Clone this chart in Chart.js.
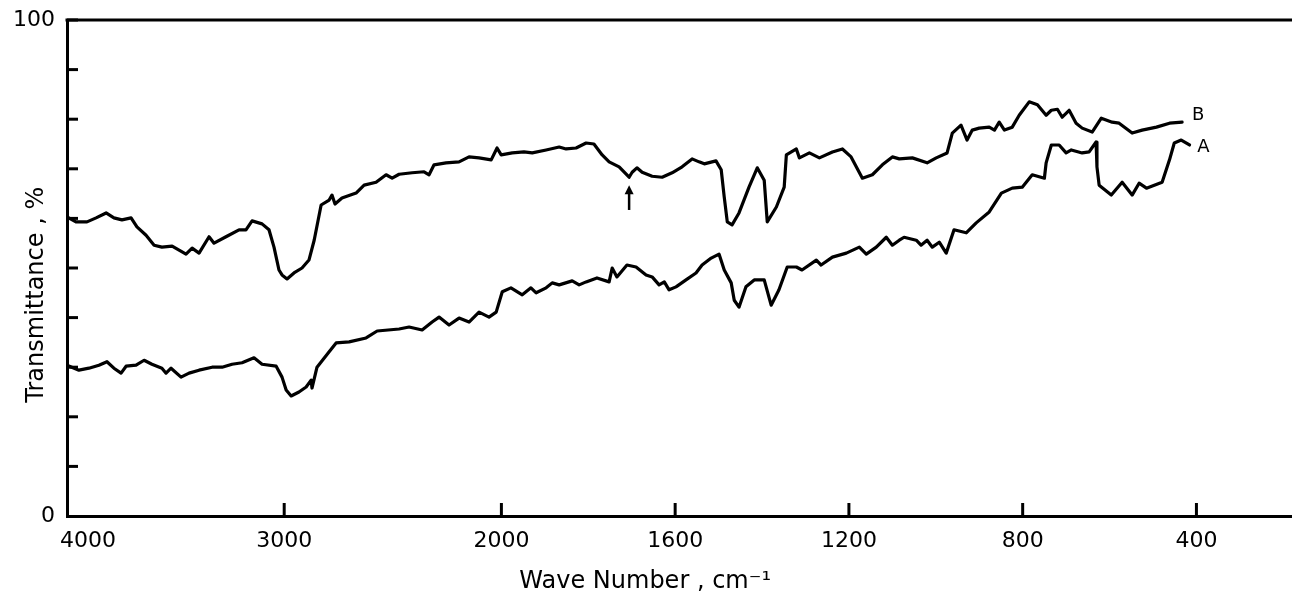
<!DOCTYPE html>
<html><head><meta charset="utf-8">
<script src="https://cdn.jsdelivr.net/npm/chart.js@4.4.1/dist/chart.umd.min.js"></script>
<style>html,body{margin:0;padding:0;background:#fff}#wrap{width:1292px;height:593px;position:relative}</style>
</head><body><div id="wrap"><canvas id="c"></canvas></div>
<script>
// ---- data (wavenumber in cm^-1, transmittance in %) ----
const tickWavenumbers = [4000, 3000, 2000, 1600, 1200, 800, 400];
const yTickLabels = [0, 100];

const waveA = [4000,3945,3899,3853,3816,3784,3751,3728,3682,3645,3609,3563,3544,3521,3475,3438,3392,3332,3286,3240,3194,3139,3102,3037,3010,2991,2968,2932,2899,2876,2872,2849,2793,2761,2701,2623,2572,2471,2425,2365,2319,2287,2241,2195,2149,2103,2057,2024,1998,1978,1952,1932,1920,1897,1883,1867,1837,1821,1805,1780,1752,1745,1734,1711,1690,1667,1653,1637,1625,1614,1598,1575,1552,1538,1517,1499,1487,1471,1464,1453,1437,1418,1395,1379,1361,1342,1321,1308,1275,1264,1238,1206,1176,1160,1137,1114,1100,1084,1073,1045,1034,1020,1008,992,976,958,930,907,877,849,824,801,778,750,746,734,716,700,688,663,647,631,629,624,596,571,548,532,515,479,462,451,435,416];
const transA = [30.4,29.4,29.8,30.4,31.1,29.8,28.8,30.2,30.4,31.4,30.6,29.8,28.8,29.8,28.0,28.8,29.4,30.0,30.0,30.6,30.9,31.9,30.6,30.2,28.0,25.4,24.2,25.0,26.0,27.4,25.8,30.0,33.1,34.9,35.1,35.9,37.3,37.7,38.1,37.5,39.1,40.1,38.5,39.9,39.1,41.1,40.1,41.1,45.2,46.0,44.6,46.0,45.0,46.0,47.0,46.6,47.4,46.6,47.2,48.0,47.2,50.0,48.2,50.6,50.2,48.6,48.2,46.6,47.2,45.6,46.2,47.6,49.0,50.6,52.0,52.8,49.6,47.0,43.5,42.1,46.2,47.6,47.6,42.5,45.6,50.2,50.2,49.6,51.6,50.6,52.2,53.0,54.2,52.8,54.2,56.2,54.6,55.6,56.2,55.6,54.6,55.6,54.2,55.2,53.0,57.7,57.1,59.1,61.3,65.1,66.1,66.3,68.8,68.1,71.2,74.8,74.8,73.2,73.8,73.2,73.4,75.4,70.4,66.7,64.7,67.3,64.7,67.1,66.1,67.3,71.8,75.2,75.8,74.8];

const waveB = [4000,3959,3908,3866,3820,3784,3747,3705,3678,3636,3599,3563,3516,3484,3452,3424,3392,3346,3323,3268,3208,3176,3148,3102,3070,3047,3024,3010,2987,2955,2918,2886,2862,2830,2793,2780,2766,2734,2669,2632,2577,2531,2503,2471,2411,2356,2333,2310,2255,2195,2149,2103,2047,2020,2001,1975,1948,1929,1897,1867,1851,1828,1805,1787,1768,1752,1729,1706,1699,1688,1676,1653,1630,1607,1584,1561,1545,1533,1506,1494,1487,1480,1469,1453,1430,1411,1395,1388,1367,1349,1344,1321,1314,1291,1268,1238,1215,1195,1169,1146,1123,1100,1084,1054,1020,999,974,962,942,928,916,900,877,865,854,842,824,808,785,766,746,734,720,709,693,677,663,640,619,594,578,548,525,492,462,433];
const transB = [60.3,59.3,59.3,60.1,61.1,60.1,59.7,60.1,58.3,56.6,54.6,54.2,54.4,53.6,52.8,54.0,53.0,56.3,55.0,56.3,57.7,57.7,59.5,58.9,57.7,54.2,49.6,48.6,47.8,49.0,50.0,51.6,55.6,62.7,63.7,64.7,62.9,64.1,65.1,66.7,67.3,68.8,68.1,68.9,69.2,69.4,68.8,70.8,71.2,71.4,72.4,72.2,71.8,74.2,72.8,73.2,73.4,73.2,73.8,74.4,74.0,74.2,75.2,75.0,72.8,71.4,70.4,68.3,69.3,70.2,69.3,68.5,68.3,69.2,70.4,72.0,71.4,71.0,71.6,69.8,64.3,59.3,58.7,61.1,66.3,70.2,67.7,59.3,62.3,66.3,72.8,74.0,72.2,73.2,72.2,73.4,74.0,72.4,68.1,68.8,70.8,72.4,72.0,72.2,71.2,72.2,73.2,77.2,78.8,75.8,77.8,78.2,78.4,77.8,79.4,77.8,78.4,80.8,83.5,82.9,80.8,81.8,82.0,80.4,81.8,79.2,78.2,77.4,80.2,79.4,79.2,77.2,77.8,78.4,79.2,79.4];

const seriesNames = ['A', 'B'];
// annotations (data units): curve labels and the arrow marking ~1710 cm-1
const curveLabelAt = { A: [398, 74.4], B: [410, 80.8] };
const arrowAt = { wave: 1706, from: 61.7, to: 66.7 };

// IR chart abscissa: 4000-2000 at half the scale of 2000-400
function pos(w) { return w >= 2000 ? (4000 - w) / 2 : 1000 + (2000 - w); }
function wave(p) { return p <= 1000 ? 4000 - 2 * p : 3000 - p; }

const toPoints = (ws, ts) => ws.map((w, i) => ({ x: pos(w), y: ts[i] }));

Chart.defaults.font.family = "'DejaVu Sans', sans-serif";
Chart.defaults.color = '#000';

const NB = '\u00A0';
const decor = {
  id: 'decor',
  afterDraw(chart) {
    const { ctx, chartArea: a, scales: { x, y } } = chart;
    ctx.save();
    ctx.strokeStyle = '#000';
    ctx.fillStyle = '#000';
    ctx.lineWidth = 3;
    ctx.lineCap = 'butt';
    // top frame line
    ctx.beginPath(); ctx.moveTo(a.left - 1.5, a.top); ctx.lineTo(a.right, a.top); ctx.stroke();
    // inward y ticks
    y.ticks.forEach(t => {
      if (t.value === 0) return;
      const py = y.getPixelForValue(t.value);
      ctx.beginPath(); ctx.moveTo(a.left, py); ctx.lineTo(a.left + 11, py); ctx.stroke();
    });
    // upward x ticks
    x.ticks.forEach(t => {
      if (t.value === 0) return;
      const px = x.getPixelForValue(t.value);
      ctx.beginPath(); ctx.moveTo(px, a.bottom); ctx.lineTo(px, a.bottom - 13); ctx.stroke();
    });
    // arrow
    const ax = x.getPixelForValue(pos(arrowAt.wave));
    const y0 = y.getPixelForValue(arrowAt.from), y1 = y.getPixelForValue(arrowAt.to);
    ctx.lineWidth = 2.5;
    ctx.beginPath(); ctx.moveTo(ax, y0); ctx.lineTo(ax, y1 + 6); ctx.stroke();
    ctx.beginPath(); ctx.moveTo(ax, y1); ctx.lineTo(ax - 4.5, y1 + 9); ctx.lineTo(ax + 4.5, y1 + 9); ctx.closePath(); ctx.fill();
    // curve labels
    ctx.font = "18px 'DejaVu Sans', sans-serif";
    ctx.textAlign = 'left'; ctx.textBaseline = 'middle';
    seriesNames.forEach(n => {
      const [w, t] = curveLabelAt[n];
      ctx.fillText(n, x.getPixelForValue(pos(w)), y.getPixelForValue(t));
    });
    ctx.restore();
  }
};

new Chart(document.getElementById('c'), {
  type: 'line',
  data: {
    datasets: [
      { label: seriesNames[0], data: toPoints(waveA, transA) },
      { label: seriesNames[1], data: toPoints(waveB, transB) }
    ]
  },
  options: {
    responsive: true,
    maintainAspectRatio: false,
    animation: false,
    layout: { padding: { top: 20, right: 0, left: 0, bottom: 0 } },
    elements: {
      line: { borderColor: '#000', borderWidth: 3.2, tension: 0, borderJoinStyle: 'round', borderCapStyle: 'round' },
      point: { radius: 0, hoverRadius: 0 }
    },
    plugins: { legend: { display: false }, tooltip: { enabled: false } },
    scales: {
      x: {
        type: 'linear',
        min: pos(4000),
        max: pos(180),
        afterFit: s => { s.height = 77; },
        afterBuildTicks: s => { s.ticks = tickWavenumbers.map(w => ({ value: pos(w) })); },
        grid: { display: false, drawTicks: false },
        border: { display: true, width: 3, color: '#000' },
        ticks: {
          autoSkip: false, maxRotation: 0, padding: 12,
          font: { size: 22 },
          callback: v => { const w = Math.round(wave(v)); return w === 4000 ? '\u2007\u2007\u20074000' : String(w); }
        },
        title: { display: true, text: 'Wave Number , cm\u207B\u00B9' + NB.repeat(9), font: { size: 24 }, padding: { top: 0, bottom: -3 } }
      },
      y: {
        min: 0, max: 100,
        afterFit: s => { s.width = 67; s.paddingTop = 0; s.paddingBottom = 0; },
        grid: { display: false, drawTicks: false },
        border: { display: true, width: 3, color: '#000' },
        ticks: {
          stepSize: 10, padding: 12, font: { size: 22 },
          callback: v => yTickLabels.includes(v) ? String(v) : ''
        },
        title: { display: true, text: 'Transmittance , %' + NB.repeat(7), font: { size: 24 }, padding: { top: 22, bottom: 0 } }
      }
    }
  },
  plugins: [decor]
});
</script>
</body></html>
